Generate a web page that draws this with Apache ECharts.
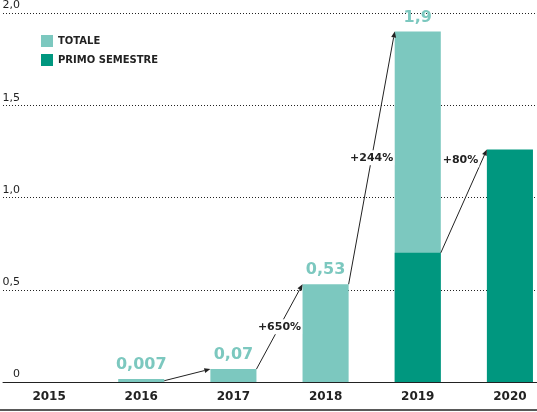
<!DOCTYPE html>
<html>
<head>
<meta charset="utf-8">
<script src="https://cdn.jsdelivr.net/npm/echarts@6/dist/echarts.min.js"></script>
<style>html,body{margin:0;padding:0;background:#fff;}#c{width:537px;height:412px;}</style>
</head>
<body>
<div id="c"></div>
<script>
const years = ['2015', '2016', '2017', '2018', '2019', '2020'];
const totale = [null, 0.007, 0.07, 0.53, 1.9, null];
const primoSemestre = [null, null, null, null, 0.7, 1.26];
const yTicks = [0, 0.5, 1.0, 1.5, 2.0];
// growth arrows: [from year index, series ('totale'|'primo'), label]
const growthFrom = [1, 2, 3, 4];
const growthSeries = ['totale', 'totale', 'totale', 'primo'];
const growthLabels = ['', '+650%', '+244%', '+80%'];

const LIGHT = '#7cc8bf';
const DARK = '#00977f';
const FONT = 'DejaVu Sans';

function fmt(v) { return v === 0 ? '0' : String(v).replace('.', ','); }

const src = { totale: totale, primo: primoSemestre };
const arrowData = growthFrom.map((f, k) => {
  const s = src[growthSeries[k]];
  return [f, s[f], s[f + 1], k];
});

const chart = echarts.init(document.getElementById('c'));
chart.setOption({
  animation: false,
  textStyle: { fontFamily: FONT },
  grid: { left: 3, right: -19, top: 13, bottom: 30, containLabel: false, outerBoundsMode: 'none' },
  legend: {
    orient: 'vertical', left: 36, top: 30,
    itemWidth: 12, itemHeight: 12, itemGap: 7,
    icon: 'rect',
    data: ['TOTALE', 'PRIMO SEMESTRE'],
    textStyle: { fontFamily: FONT, fontSize: 10, fontWeight: 'bold', color: '#222' }
  },
  xAxis: {
    type: 'category', data: years,
    axisLine: { show: true, lineStyle: { color: '#222', width: 1 } },
    axisTick: { show: false },
    axisLabel: { fontFamily: FONT, fontSize: 12, fontWeight: 'bold', color: '#222', margin: 9 }
  },
  yAxis: {
    type: 'value', min: yTicks[0], max: yTicks[yTicks.length - 1], interval: 0.5,
    axisLine: { show: false }, axisTick: { show: false },
    splitLine: { show: true, lineStyle: { color: '#222', type: [1, 2], width: 1 } },
    axisLabel: {
      inside: true, align: 'right', verticalAlign: 'bottom', margin: 17,
      padding: [0, 0, 2, 0],
      fontFamily: FONT, fontSize: 11, color: '#222',
      formatter: v => v === 0 ? '0' : v.toFixed(1).replace('.', ',')
    }
  },
  graphic: [{
    type: 'line', shape: { x1: 0, y1: 410, x2: 537, y2: 410 },
    style: { stroke: '#222', lineWidth: 1.5 }, silent: true
  }],
  series: [
    {
      name: 'TOTALE', type: 'bar', data: totale, barWidth: '50%', barGap: '-100%',
      barMinHeight: 3,
      itemStyle: { color: LIGHT },
      label: {
        show: true, position: 'top', distance: 6, color: LIGHT,
        fontFamily: FONT, fontSize: 16, fontWeight: 'bold',
        formatter: p => fmt(p.value)
      }
    },
    {
      name: 'PRIMO SEMESTRE', type: 'bar', data: primoSemestre, barWidth: '50%', barGap: '-100%',
      itemStyle: { color: DARK }, z: 3
    },
    {
      type: 'custom', data: arrowData, encode: { x: 0, y: [1, 2] }, z: 5, clip: false,
      silent: true,
      renderItem: function (params, api) {
        const i = api.value(0);
        const p0 = api.coord([i, api.value(1)]);
        const p1 = api.coord([i + 1, api.value(2)]);
        const bw = api.size([1, 0])[0] * 0.5;
        const x0 = p0[0] + bw / 2, y0 = p0[1];
        const x1 = p1[0] - bw / 2, y1 = p1[1];
        const dx = x1 - x0, dy = y1 - y0, L = Math.sqrt(dx * dx + dy * dy);
        const ux = dx / L, uy = dy / L;
        const ah = 6, aw = 2.5;
        const bx = x1 - ux * ah, by = y1 - uy * ah;
        const children = [
          { type: 'line', shape: { x1: x0, y1: y0, x2: bx, y2: by }, style: { stroke: '#222', lineWidth: 1 } },
          { type: 'polygon', shape: { points: [[x1, y1], [bx - uy * aw, by + ux * aw], [bx + uy * aw, by - ux * aw]] }, style: { fill: '#222' } }
        ];
        const lbl = growthLabels[api.value(3)];
        if (lbl) {
          const last = api.value(3) === growthLabels.length - 1;
          const t = last ? 0.9 : 0.5;
          const lx = x0 + dx * t + (last ? -3 : 0);
          const ly = y0 + dy * t;
          children.push({
            type: 'text', x: lx, y: ly,
            style: {
              text: lbl, align: last ? 'right' : 'center', verticalAlign: 'middle',
              fontFamily: FONT, fontSize: 11, fontWeight: 'bold', fill: '#222',
              backgroundColor: '#fff', padding: [2, 1]
            }
          });
        }
        return { type: 'group', children: children };
      }
    }
  ]
});
</script>
</body>
</html>
